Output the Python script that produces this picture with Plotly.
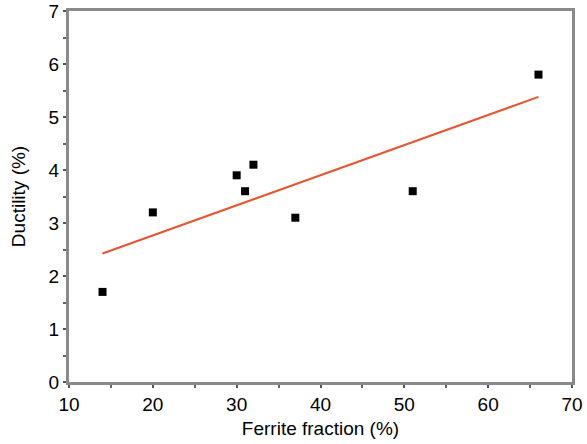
import numpy as np
import plotly.graph_objects as go

ferrite = [14, 20, 30, 31, 32, 37, 51, 66]
ductility = [1.7, 3.2, 3.9, 3.6, 4.1, 3.1, 3.6, 5.8]

slope, intercept = np.polyfit(ferrite, ductility, 1)
fit_x = [min(ferrite), max(ferrite)]
fit_y = [slope * v + intercept for v in fit_x]

fig = go.Figure()
fig.add_trace(go.Scatter(x=fit_x, y=fit_y, mode="lines",
                         line=dict(color="#E8552C", width=2), showlegend=False))
fig.add_trace(go.Scatter(x=ferrite, y=ductility, mode="markers",
                         marker=dict(symbol="square", size=8, color="black"),
                         showlegend=False))

font = dict(family="Liberation Sans, Arial, sans-serif", size=19, color="black")
axis_common = dict(showgrid=False, zeroline=False, showline=True, mirror=True,
                   linecolor="#8a8a8a", linewidth=3, ticks="outside", ticklen=3,
                   tickwidth=2, tickcolor="#555555", tickfont=font, automargin=False)
minor_x = dict(dtick=5, ticks="outside", ticklen=3, tickwidth=2, tickcolor="#666666")
minor_y = dict(dtick=0.5, ticks="outside", ticklen=3, tickwidth=2, tickcolor="#666666")

fig.update_layout(
    width=587, height=444,
    margin=dict(l=69, r=15, t=11, b=62),
    paper_bgcolor="white", plot_bgcolor="white",
    xaxis=dict(range=[10, 70], dtick=10, minor=minor_x,
               title=dict(text="Ferrite fraction (%)", font=font, standoff=8),
               **axis_common),
    yaxis=dict(range=[0, 7], dtick=1, minor=minor_y,
               title=dict(text="Ductility (%)", font=font, standoff=18),
               **axis_common),
)

fig.write_html("out.html")
